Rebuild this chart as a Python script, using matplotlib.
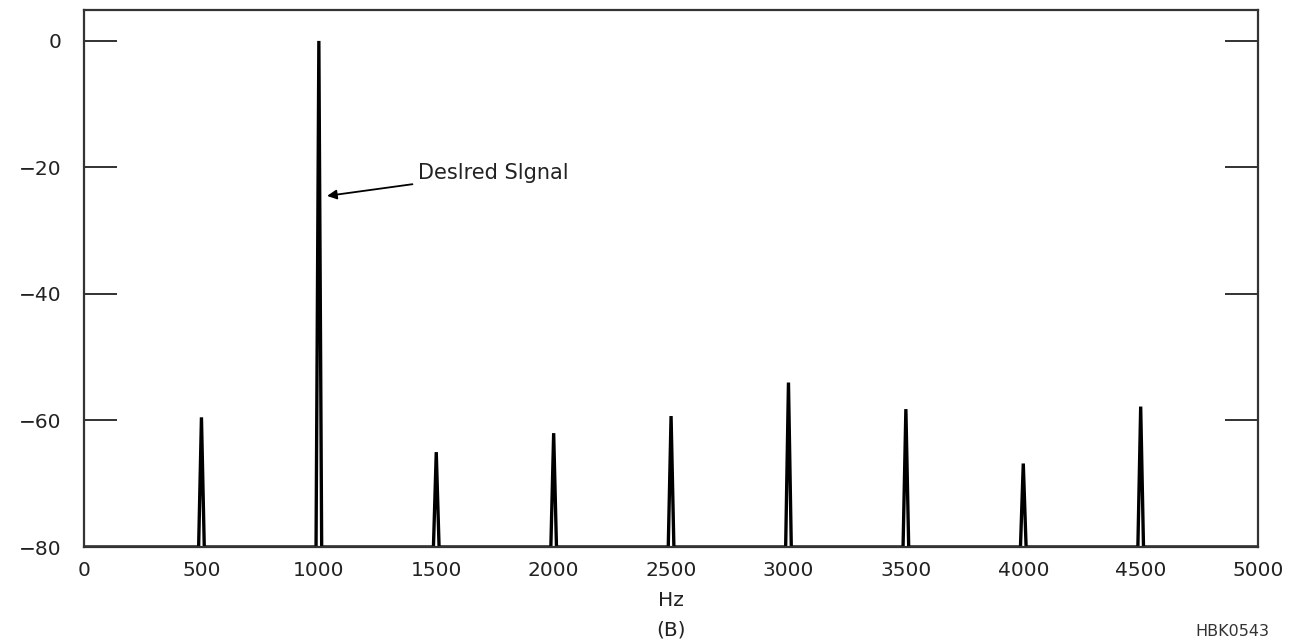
import numpy as np
import matplotlib.pyplot as plt

# spectrum lines
freqs = [500, 1000, 1500, 2000, 2500, 3000, 3500, 4000, 4500]
levels = [-59.5, 0, -65, -62, -59.3, -54, -58.2, -66.8, -57.8]
yticks = [0, -20, -40, -60, -80]
xticks = [0, 500, 1000, 1500, 2000, 2500, 3000, 3500, 4000, 4500, 5000]
floor = -80
halfw = 12  # half width of a spike, Hz

plt.rcParams['font.family'] = ['DejaVu Sans']

# build the trace: flat floor with narrow triangular spikes
x = [0]
y = [floor]
for f, lv in zip(freqs, levels):
    x += [f - halfw, f, f + halfw]
    y += [floor, lv, floor]
x.append(5000)
y.append(floor)

fig = plt.figure(figsize=(12.93, 6.44), dpi=100)
ax = fig.add_axes([0.065, 0.1506, 0.908, 0.834])
ax.plot(x, y, color='black', lw=2.4, solid_joinstyle='miter')

ax.set_xlim(0, 5000)
ax.set_ylim(-80, 4.9)
ax.set_xticks(xticks)
ax.set_yticks(yticks)
ax.tick_params(axis='x', length=0, pad=10, labelsize=14.5, colors='#222')
ax.tick_params(axis='y', direction='in', length=24, width=1.3, pad=16,
               labelsize=14.5, right=True, colors='#222')
for s in ax.spines.values():
    s.set_linewidth(1.6)
    s.set_color('#333')

fig.text(0.519, 0.068, 'Hz', ha='center', va='center', fontsize=14.5, color='#222')
fig.text(0.519, 0.022, '(B)', ha='center', va='center', fontsize=14.5, color='#222')
fig.text(0.953, 0.019, 'HBK0543', ha='center', va='center', fontsize=11.5, color='#333')

ax.annotate('Deslred Slgnal', xy=(1035, -24.5), xytext=(1422, -20.9),
            fontsize=15, va='center', ha='left', color='#222',
            arrowprops=dict(arrowstyle='-|>', color='black', lw=1.3,
                            mutation_scale=14, shrinkA=2, shrinkB=0))

fig.savefig('out.png', dpi=100)
